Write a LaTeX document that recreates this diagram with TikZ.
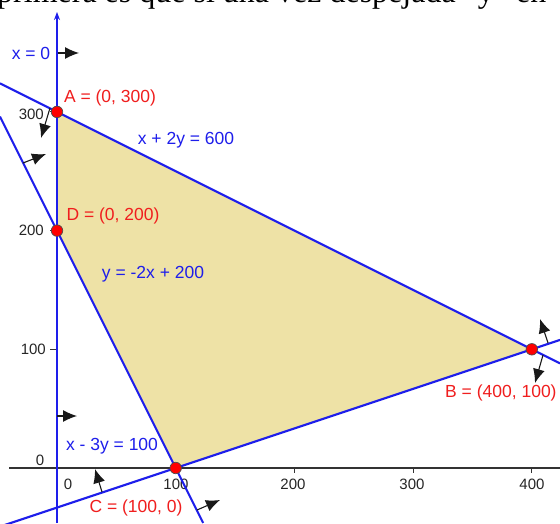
\documentclass[tikz,border=0pt]{standalone}
\usepackage{fontspec}
\setmainfont{Liberation Sans}
\newfontfamily\seriffam{Liberation Serif}
\usetikzlibrary{arrows.meta}
\definecolor{gblue}{RGB}{30,30,235}
\definecolor{gred}{RGB}{240,30,30}
\definecolor{gfill}{RGB}{238,226,166}
\definecolor{garrow}{RGB}{25,25,25}
\begin{document}
\begin{tikzpicture}[x=1pt,y=1pt,
  cline/.style={gblue, line width=2.1pt},
  axisline/.style={black!80, line width=1.1pt},
  lbl/.style={font=\fontsize{17.5}{20}\selectfont, inner sep=0},
  ticklbl/.style={font=\fontsize{15}{18}\selectfont, inner sep=0, text=black!85},
  ptnode/.style={circle, fill=red, draw=black!70, line width=0.7pt, minimum size=11.5pt, inner sep=0},
  dirarrow/.style={garrow, line width=1.1pt, -{Latex[length=14pt,width=12pt]}},
]
\clip (0,0) rectangle (560,523);
\fill[white] (0,0) rectangle (560,523);
% cut-off text line at top
\node[anchor=base west, inner sep=0, font=\seriffam\fontsize{32}{36}\selectfont] (toptext) at (-3,520) {primera es que si una vez despejada “y” en};
% vertices
\coordinate (pA) at (57,411.1);
\coordinate (pB) at (531.8,173.7);
\coordinate (pC) at (175.7,55);
\coordinate (pD) at (57,292.4);
% feasible region
\fill[gfill] (pA) -- (pB) -- (pC) -- (pD) -- cycle;
% x axis
\coordinate (xs) at (9,55);
\coordinate (xe) at (560,55);
\draw[axisline] (xs) -- (xe);
\foreach \xx in {175.7,294.4,413.1,531.8} \draw[axisline] (\xx,55) -- (\xx,50);
\foreach \yy in {173.7,292.4,411.1} \draw[axisline] (50,\yy) -- (57,\yy);
% tick labels
\node[ticklbl] (tx0) at (68,39) {0};
\node[ticklbl] (tx1) at (176,39) {100};
\node[ticklbl] (tx2) at (293,39) {200};
\node[ticklbl] (tx3) at (412,39) {300};
\node[ticklbl] (tx4) at (532,39) {400};
\node[ticklbl] (ty0) at (40,63) {0};
\node[ticklbl, anchor=east] (ty1) at (46,174) {100};
\node[ticklbl, anchor=east] (ty2) at (44,293) {200};
\node[ticklbl, anchor=east] (ty3) at (44,409) {300};
% constraint lines
\coordinate (l0s) at (57,0);
\coordinate (l0e) at (57,511);
\draw[cline, -{Stealth[length=8pt,width=6pt]}] (l0s) -- (l0e);
\coordinate (l1s) at (0,439.6);
\coordinate (l1e) at (560,159.6);
\draw[cline] (l1s) -- (l1e);
\coordinate (l2s) at (0,406.4);
\coordinate (l2e) at (203.2,0);
\draw[cline] (l2s) -- (l2e);
\coordinate (l3s) at (0,-3.6);
\coordinate (l3e) at (560,183.1);
\draw[cline] (l3s) -- (l3e);
% direction arrows
\coordinate (a1s) at (58,470); \coordinate (a1e) at (79,470);
\coordinate (a2s) at (57,107); \coordinate (a2e) at (77,107);
\coordinate (a3s) at (50,415); \coordinate (a3e) at (41,385);
\coordinate (a4s) at (23,360); \coordinate (a4e) at (46,369);
\coordinate (a5s) at (102,31); \coordinate (a5e) at (95,54);
\coordinate (a6s) at (197,13); \coordinate (a6e) at (220,23);
\coordinate (a7s) at (548,180); \coordinate (a7e) at (540,204);
\coordinate (a8s) at (543,168); \coordinate (a8e) at (535,140);
\foreach \k in {1,...,8} \draw[dirarrow] (a\k s) -- (a\k e);
% labels
\node[lbl, text=gblue] (lx0) at (31,470) {x = 0};
\node[lbl, text=gblue] (lx1) at (186,383) {x + 2y = 600};
\node[lbl, text=gblue] (lx2) at (153,249) {y = -2x + 200};
\node[lbl, text=gblue] (lx3) at (112,77) {x - 3y = 100};
\node[lbl, text=gred] (lA) at (110,425) {A = (0, 300)};
\node[lbl, text=gred] (lD) at (113,307) {D = (0, 200)};
\node[lbl, text=gred] (lC) at (136,15) {C = (100, 0)};
\node[lbl, text=gred, anchor=west] (lB) at (445,130) {B = (400, 100)};
% points
\node[ptnode] (A) at (pA) {};
\node[ptnode] (B) at (pB) {};
\node[ptnode] (C) at (pC) {};
\node[ptnode] (D) at (pD) {};
\end{tikzpicture}
\end{document}
